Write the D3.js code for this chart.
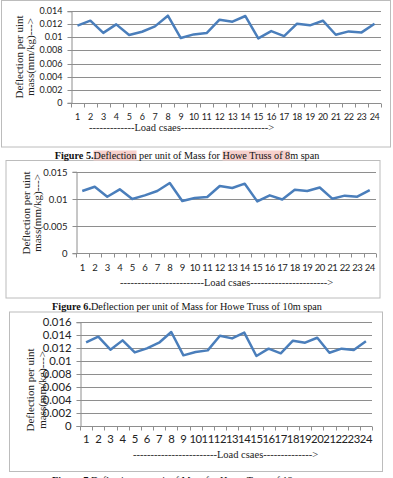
<!DOCTYPE html>
<html>
<head>
<meta charset="utf-8">
<script src="https://cdn.jsdelivr.net/npm/d3@7"></script>
<style>
  html, body { margin: 0; padding: 0; background: #fff; }
  svg { display: block; }
</style>
</head>
<body>
<svg id="page" width="393" height="478"></svg>
<script>
// load cases on the x axis
var loadCases = ['1','2','3','4','5','6','7','8','9','10','11','12',
                 '13','14','15','16','17','18','19','20','21','22','23','24'];

// deflection per unit mass (mm/kg)
var span8 = [0.0118, 0.01256, 0.0107, 0.0120, 0.01036, 0.01087, 0.01169, 0.01333,
             0.0099, 0.01046, 0.01067, 0.01272, 0.01241, 0.01328, 0.00985, 0.01097,
             0.0102, 0.0121, 0.01185, 0.01256, 0.01041, 0.01092, 0.01077, 0.0121];
var span10 = [0.01145, 0.01224, 0.0104, 0.01176, 0.00998, 0.01065, 0.01145, 0.01292,
              0.00961, 0.01016, 0.01035, 0.01237, 0.0120, 0.0128, 0.00955, 0.01065,
              0.0099, 0.0117, 0.01145, 0.0121, 0.01004, 0.0106, 0.0104, 0.01163];
var span12 = [0.0129, 0.01378, 0.01177, 0.01321, 0.01136, 0.01198, 0.01285, 0.0145,
              0.0109, 0.01141, 0.01167, 0.01393, 0.01352, 0.0144, 0.0108, 0.01193,
              0.01121, 0.01316, 0.01285, 0.01362, 0.01131, 0.01193, 0.01172, 0.01306];

var ticks8 = [0, 0.002, 0.004, 0.006, 0.008, 0.01, 0.012, 0.014];
var ticks10 = [0, 0.005, 0.01, 0.015];
var ticks12 = [0, 0.002, 0.004, 0.006, 0.008, 0.01, 0.012, 0.014, 0.016];

var yTitle = ['Deflection per uint', 'mass(mm/kg)--->'];

var svg = d3.select('#page');

var charts = [
  { values: span8, ticks: ticks8, max: 0.014,
    box: [1.5, 0.5, 389, 146.5], plot: [71, 381, 11.3, 102.7],
    tickFont: 9, labelY: 119.5, loadX: 89, loadY: 130.5,
    loadText: '-------------Load csaes------------------------->',
    titleX: [19, 30], titleY: 57 },
  { values: span10, ticks: ticks10, max: 0.015,
    box: [6, 160.5, 374, 137.5], plot: [76, 376, 171.7, 253.3],
    tickFont: 9.5, labelY: 270.5, loadX: 120, loadY: 286.2,
    loadText: '------------------------Load csaes---------------------->',
    titleX: [26, 37], titleY: 213 },
  { values: span12, ticks: ticks12, max: 0.016,
    box: [9.5, 312, 373, 159.5], plot: [80, 372, 322.3, 426],
    tickFont: 11.3, labelY: 443, loadX: 133, loadY: 458,
    loadText: '------------------------Load csaes-------------->',
    titleX: [30, 42], titleY: 390 }
];

var captions = [
  { y: 158.5, bold: 'Figure 5.', rest: 'Deflection per unit of Mass for Howe Truss of 8m span',
    marks: ['Deflection', 'Howe Truss of 8'] },
  { y: 309.5, bold: 'Figure 6.', rest: 'Deflection per unit of Mass for Howe Truss of 10m span', marks: [] },
  { y: 483.5, bold: 'Figure 7.', rest: 'Deflection per unit of Mass for Howe Truss of 12m span', marks: [] }
];

function drawChart(c) {
  var g = svg.append('g');

  g.append('rect')
    .attr('x', c.box[0]).attr('y', c.box[1])
    .attr('width', c.box[2]).attr('height', c.box[3])
    .attr('fill', '#fff').attr('stroke', '#bcbcbc').attr('stroke-width', 1);

  var x = d3.scaleBand().domain(loadCases).range([c.plot[0], c.plot[1]]);
  var y = d3.scaleLinear().domain([0, c.max]).range([c.plot[3], c.plot[2]]);

  // horizontal gridlines
  g.append('g').selectAll('line')
    .data(c.ticks)
    .enter().append('line')
    .attr('x1', c.plot[0]).attr('x2', c.plot[1])
    .attr('y1', function(d) { return Math.round(y(d)) + 0.5; })
    .attr('y2', function(d) { return Math.round(y(d)) + 0.5; })
    .attr('stroke', '#8e8e8e').attr('stroke-width', 1);

  // y axis with small ticks and labels
  var yAxis = g.append('g')
    .attr('transform', 'translate(' + (Math.round(c.plot[0]) + 0.5) + ',0)')
    .call(d3.axisLeft(y).tickValues(c.ticks).tickSize(4).tickPadding(5)
      .tickFormat(function(d) { return String(+d.toFixed(3)); }));
  yAxis.select('.domain').attr('stroke', '#8e8e8e');
  yAxis.selectAll('.tick line').attr('stroke', '#8e8e8e');
  yAxis.selectAll('.tick').attr('transform', function(d) {
    return 'translate(0,' + (Math.round(y(d)) + 0.5) + ')';
  });
  yAxis.selectAll('text')
    .attr('font-family', 'Lato, "Open Sans", sans-serif')
    .attr('font-size', c.tickFont).attr('fill', '#222');

  // x axis: tick marks sit on category boundaries
  var bottom = Math.round(y(0)) + 0.5;
  var edges = loadCases.map(function(d) { return x(d); }).concat([x.range()[1]]);
  g.append('g').selectAll('line')
    .data(edges)
    .enter().append('line')
    .attr('x1', function(d) { return Math.round(d) + 0.5; })
    .attr('x2', function(d) { return Math.round(d) + 0.5; })
    .attr('y1', bottom).attr('y2', bottom + 4)
    .attr('stroke', '#8e8e8e');

  g.append('g').selectAll('text')
    .data(loadCases)
    .enter().append('text')
    .attr('x', function(d) { return x(d) + x.bandwidth() / 2; })
    .attr('y', c.labelY)
    .attr('text-anchor', 'middle')
    .attr('font-family', 'Lato, "Open Sans", sans-serif')
    .attr('font-size', c.tickFont).attr('fill', '#222')
    .attr('letter-spacing', -0.4)
    .text(function(d) { return d; });

  g.append('text')
    .attr('x', c.loadX)
    .attr('y', c.loadY)
    .attr('font-family', '"Liberation Serif", "Times New Roman", serif')
    .attr('font-size', 10.5).attr('fill', '#222')
    .text(c.loadText);

  // rotated y title, two lines
  yTitle.forEach(function(t, i) {
    g.append('text')
      .attr('transform', 'translate(' + (c.titleX[i] + 4) + ',' + c.titleY + ') rotate(-90)')
      .attr('text-anchor', 'middle')
      .attr('font-family', '"Liberation Serif", "Times New Roman", serif')
      .attr('font-size', 11).attr('fill', '#222')
      .text(t);
  });

  var line = d3.line()
    .x(function(d, i) { return x(loadCases[i]) + x.bandwidth() / 2; })
    .y(function(d) { return y(d); });

  g.append('path')
    .datum(c.values)
    .attr('d', line)
    .attr('fill', 'none')
    .attr('stroke', '#4a7ebb')
    .attr('stroke-width', 2.5)
    .attr('stroke-linejoin', 'round');
}

function drawCaption(cap) {
  var g = svg.append('g');
  var bg = g.append('g');
  var t = g.append('text')
    .attr('x', 187).attr('y', cap.y)
    .attr('text-anchor', 'middle')
    .attr('font-family', '"Liberation Serif", "Times New Roman", serif')
    .attr('font-size', 10.2).attr('fill', '#111');
  t.append('tspan').attr('font-weight', 'bold').text(cap.bold);
  t.append('tspan').text(cap.rest);

  // pink highlight behind marked words
  var full = cap.bold + cap.rest;
  var node = t.node();
  cap.marks.forEach(function(m) {
    var i = full.indexOf(m);
    var a = node.getExtentOfChar(i);
    var b = node.getExtentOfChar(i + m.length - 1);
    bg.append('rect')
      .attr('x', a.x).attr('y', a.y + 1)
      .attr('width', b.x + b.width - a.x).attr('height', a.height - 1)
      .attr('fill', '#f6cfcb');
  });
}

charts.forEach(drawChart);
captions.forEach(drawCaption);
</script>
</body>
</html>
